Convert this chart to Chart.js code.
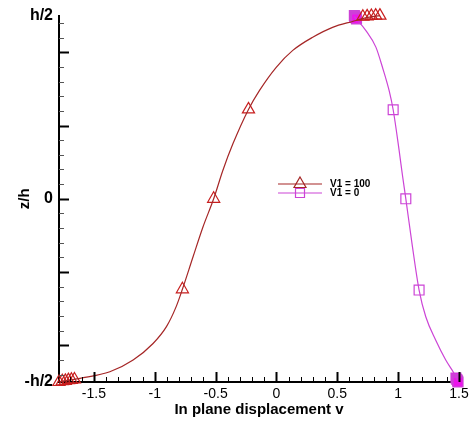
<!DOCTYPE html>
<html lang="en">
<head>
    <meta charset="UTF-8">
    <title>In plane displacement v</title>
    <style>
        body {
            margin: 0;
            padding: 0;
            background: #fff;
        }
        #wrap {
            width: 470px;
            height: 421px;
            position: relative;
        }
    </style>
</head>
<body>
    <div id="wrap">
        <canvas id="dispChart"></canvas>
    </div>
    <script src="https://cdn.jsdelivr.net/npm/chart.js"></script>
    <script>
        // V1 = 100 : smooth curve, then the symbol positions
        const v100CurveX = [-1.787, -1.70, -1.615, -1.369, -1.178, -1.014, -0.904, -0.825, -0.773, -0.686, -0.604, -0.516, -0.440, -0.358, -0.230, -0.139, -0.002, 0.134, 0.298, 0.461, 0.625, 0.75, 0.85];
        const v100CurveZ = [-0.5, -0.495, -0.490, -0.472, -0.440, -0.395, -0.349, -0.295, -0.247, -0.159, -0.077, 0, 0.078, 0.150, 0.244, 0.296, 0.359, 0.405, 0.441, 0.468, 0.484, 0.495, 0.5];
        const v100MarkX = [-1.787, -1.76, -1.735, -1.71, -1.685, -1.66, -0.773, -0.516, -0.230, 0.71, 0.745, 0.78, 0.815, 0.85];
        const v100MarkZ = [-0.5, -0.498, -0.497, -0.495, -0.494, -0.493, -0.247, 0, 0.244, 0.497, 0.498, 0.499, 0.5, 0.5];

        // V1 = 0
        const v0CurveX = [0.64, 0.735, 0.817, 0.871, 0.926, 0.959, 1.008, 1.035, 1.063, 1.115, 1.172, 1.227, 1.309, 1.391, 1.459, 1.492];
        const v0CurveZ = [0.497, 0.459, 0.414, 0.359, 0.295, 0.243, 0.132, 0.065, 0, -0.125, -0.249, -0.322, -0.386, -0.44, -0.476, -0.497];
        const v0MarkX = [0.64, 0.643, 0.647, 0.652, 0.658, 0.959, 1.063, 1.172, 1.475, 1.482, 1.488, 1.492];
        const v0MarkZ = [0.5, 0.498, 0.496, 0.494, 0.491, 0.243, 0, -0.249, -0.489, -0.493, -0.497, -0.5];

        const xTickLabels = [-1.5, -1, -0.5, 0, 0.5, 1, 1.5];
        const zTickValues = [-0.5, 0, 0.5];
        const zTickLabels = ['-h/2', '0', 'h/2'];

        const seriesNames = ['V1 = 100', 'V1 = 0'];

        const redCol = 'rgb(165, 38, 38)';
        const magCol = 'rgb(204, 68, 214)';
        const magFill = 'rgb(236, 20, 236)';

        const toPts = (xs, zs) => xs.map((x, i) => ({ x: x, y: zs[i] }));

        // inward tick marks, like the original plot
        const tickMarks = {
            id: 'tickMarks',
            afterDraw(chart) {
                const ctx = chart.ctx;
                const xs = chart.scales.x, ys = chart.scales.y;
                const area = chart.chartArea;
                ctx.save();
                ctx.strokeStyle = '#000';
                for (let i = -17; i <= 15; i++) {
                    const v = i / 10;
                    const major = i % 5 === 0;
                    const px = Math.round(xs.getPixelForValue(v)) + 0.5;
                    ctx.lineWidth = major ? 2 : 1;
                    ctx.beginPath();
                    ctx.moveTo(px, area.bottom);
                    ctx.lineTo(px, area.bottom - (major ? 10 : 5));
                    ctx.stroke();
                }
                for (let i = -12; i <= 12; i++) {
                    const v = i * 0.04;
                    const major = i % 5 === 0;
                    const py = Math.round(ys.getPixelForValue(v)) + 0.5;
                    ctx.lineWidth = major ? 2 : 1;
                    ctx.strokeStyle = major ? '#000' : '#555';
                    ctx.beginPath();
                    ctx.moveTo(area.left, py);
                    ctx.lineTo(area.left + (major ? 10 : 5), py);
                    ctx.stroke();
                }
                ctx.restore();
            }
        };

        // legend: line with symbol in the middle
        const lineLegend = {
            id: 'lineLegend',
            afterDraw(chart) {
                const ctx = chart.ctx;
                const rows = [
                    { y: 184, col: redCol, shape: 'tri' },
                    { y: 193, col: magCol, shape: 'sq' }
                ];
                ctx.save();
                rows.forEach((r, i) => {
                    ctx.strokeStyle = r.col;
                    ctx.lineWidth = 1.2;
                    ctx.beginPath();
                    ctx.moveTo(278, r.y);
                    ctx.lineTo(322, r.y);
                    ctx.stroke();
                    ctx.beginPath();
                    if (r.shape === 'tri') {
                        ctx.moveTo(300, r.y - 7);
                        ctx.lineTo(306, r.y + 3.5);
                        ctx.lineTo(294, r.y + 3.5);
                        ctx.closePath();
                    } else {
                        ctx.rect(295.5, r.y - 4.5, 9, 9);
                    }
                    ctx.stroke();
                    ctx.fillStyle = '#000';
                    ctx.font = 'bold 10px "Liberation Sans", Arial, sans-serif';
                    ctx.textBaseline = 'middle';
                    ctx.fillText(seriesNames[i], 330, r.y);
                });
                ctx.restore();
            }
        };

        new Chart(document.getElementById('dispChart'), {
            type: 'scatter',
            data: {
                datasets: [
                    {
                        data: toPts(v100CurveX, v100CurveZ),
                        showLine: true,
                        borderColor: redCol,
                        borderWidth: 1.2,
                        pointRadius: 0,
                        cubicInterpolationMode: 'monotone',
                        clip: false
                    },
                    {
                        data: toPts(v100MarkX, v100MarkZ),
                        showLine: false,
                        pointStyle: 'triangle',
                        pointRadius: 7,
                        borderColor: 'rgb(200, 30, 30)',
                        backgroundColor: 'rgba(0,0,0,0)',
                        pointBorderWidth: 1.2,
                        clip: false
                    },
                    {
                        data: toPts(v0CurveX, v0CurveZ),
                        showLine: true,
                        borderColor: magCol,
                        borderWidth: 1.2,
                        pointRadius: 0,
                        cubicInterpolationMode: 'monotone',
                        clip: false
                    },
                    {
                        data: toPts(v0MarkX, v0MarkZ),
                        showLine: false,
                        pointStyle: 'rect',
                        pointRadius: 7,
                        borderColor: magCol,
                        backgroundColor: ctx => Math.abs(ctx.raw.y) > 0.48 ? magFill : 'rgba(0,0,0,0)',
                        pointBorderWidth: 1.2,
                        clip: false
                    }
                ]
            },
            options: {
                responsive: true,
                maintainAspectRatio: false,
                animation: false,
                layout: { padding: { top: 15, right: 11, left: 0, bottom: 0 } },
                plugins: {
                    legend: { display: false },
                    tooltip: { enabled: false }
                },
                scales: {
                    x: {
                        type: 'linear',
                        min: -1.787,
                        max: 1.5,
                        grid: { display: false, drawTicks: false },
                        border: { display: true, color: '#000', width: 2 },
                        afterBuildTicks: s => { s.ticks = xTickLabels.map(v => ({ value: v })); },
                        afterFit: s => { s.height = 39; s.paddingLeft = 0; s.paddingRight = 0; },
                        ticks: {
                            autoSkip: false,
                            maxRotation: 0,
                            padding: 4,
                            color: '#000',
                            font: { family: '"Liberation Sans", Arial, sans-serif', size: 14 },
                            callback: v => String(v)
                        },
                        title: {
                            display: true,
                            text: 'In plane displacement v',
                            color: '#000',
                            padding: { top: 0, bottom: 2 },
                            font: { family: '"Liberation Sans", Arial, sans-serif', size: 15, weight: 'bold' }
                        }
                    },
                    y: {
                        type: 'linear',
                        min: -0.5,
                        max: 0.5,
                        grid: { display: false, drawTicks: false },
                        border: { display: true, color: '#000', width: 2 },
                        afterBuildTicks: s => { s.ticks = zTickValues.map(v => ({ value: v })); },
                        afterFit: s => { s.width = 59; },
                        ticks: {
                            autoSkip: false,
                            padding: 6,
                            color: '#000',
                            font: { family: '"Liberation Sans", Arial, sans-serif', size: 16, weight: 'bold' },
                            callback: v => zTickLabels[zTickValues.indexOf(v)]
                        },
                        title: {
                            display: true,
                            text: 'z/h',
                            color: '#000',
                            padding: { top: 16, bottom: 0 },
                            font: { family: '"Liberation Sans", Arial, sans-serif', size: 15, weight: 'bold' }
                        }
                    }
                }
            },
            plugins: [tickMarks, lineLegend]
        });
    </script>
</body>
</html>
